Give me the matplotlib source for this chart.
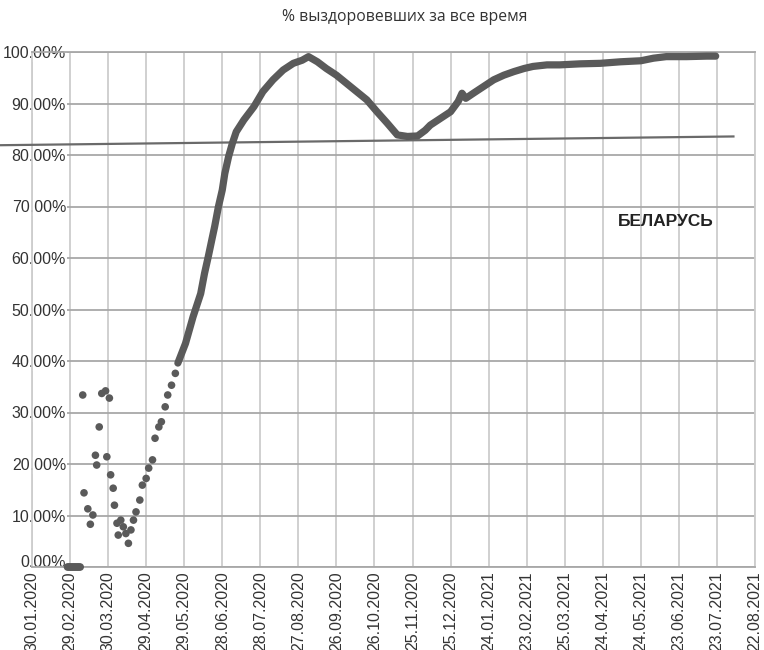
import matplotlib
matplotlib.use("Agg")
import matplotlib.pyplot as plt
import matplotlib.dates as mdates
from matplotlib.ticker import FuncFormatter
import pandas as pd

# ранний период: разрозненные точки
early_dates = ["2020-02-27", "2020-02-28", "2020-02-29", "2020-03-01", "2020-03-02",
               "2020-03-03", "2020-03-04", "2020-03-05", "2020-03-06", "2020-03-07",
               "2020-03-08",
               "2020-03-10", "2020-03-11", "2020-03-14", "2020-03-16", "2020-03-18",
               "2020-03-20", "2020-03-21", "2020-03-23", "2020-03-25", "2020-03-28",
               "2020-03-29", "2020-03-31", "2020-04-01", "2020-04-03", "2020-04-04",
               "2020-04-06", "2020-04-07", "2020-04-09", "2020-04-11", "2020-04-13",
               "2020-04-15", "2020-04-17", "2020-04-19", "2020-04-21", "2020-04-24",
               "2020-04-26", "2020-04-29", "2020-05-01", "2020-05-04", "2020-05-06",
               "2020-05-09", "2020-05-11", "2020-05-14", "2020-05-16", "2020-05-19",
               "2020-05-22"]
early_pct = [0, 0, 0, 0, 0, 0, 0, 0, 0, 0, 0,
             33.4, 14.4, 11.3, 8.3, 10.1, 21.7, 19.8, 27.2, 33.7, 34.2,
             21.4, 32.8, 17.9, 15.3, 12.0, 8.5, 6.2, 9.1, 7.8, 6.5,
             4.6, 7.2, 9.1, 10.7, 13.0, 15.9, 17.2, 19.2, 20.8, 25.0,
             27.2, 28.2, 31.1, 33.4, 35.3, 37.6]

# дальше ряд сплошной
main_dates = ["2020-05-24", "2020-05-30", "2020-06-05", "2020-06-11", "2020-06-14",
              "2020-06-17", "2020-06-20", "2020-06-22", "2020-06-25", "2020-06-28",
              "2020-06-30", "2020-07-03", "2020-07-06", "2020-07-09", "2020-07-15",
              "2020-07-23", "2020-07-30", "2020-08-07", "2020-08-15", "2020-08-23",
              "2020-08-30", "2020-09-04", "2020-09-11", "2020-09-18", "2020-09-26",
              "2020-10-04", "2020-10-12", "2020-10-20", "2020-10-28", "2020-11-05",
              "2020-11-13", "2020-11-21", "2020-11-29", "2020-12-05", "2020-12-09",
              "2020-12-17", "2020-12-25", "2020-12-31", "2021-01-03", "2021-01-06",
              "2021-01-12", "2021-01-20", "2021-01-28", "2021-02-05", "2021-02-13",
              "2021-02-21", "2021-02-28", "2021-03-11", "2021-03-21", "2021-04-06",
              "2021-04-22", "2021-05-08", "2021-05-24", "2021-06-03", "2021-06-13",
              "2021-06-29", "2021-07-15", "2021-07-22"]
main_pct = [39.6, 43.4, 48.6, 53.1, 57.0,
            60.3, 63.8, 66.1, 70.0, 73.2,
            76.4, 79.7, 82.3, 84.5, 86.8,
            89.4, 92.3, 94.6, 96.5, 97.8,
            98.4, 99.1, 98.1, 96.8, 95.5,
            93.9, 92.3, 90.7, 88.4, 86.2,
            83.9, 83.6, 83.7, 84.8, 85.8,
            87.1, 88.4, 90.4, 92.0, 91.0,
            92.0, 93.3, 94.6, 95.5, 96.2,
            96.8, 97.2, 97.5, 97.5, 97.7,
            97.8, 98.1, 98.3, 98.8, 99.1,
            99.1, 99.2, 99.2]

# линия тренда (концы)
trend_dates = ["2020-01-05", "2021-08-05"]
trend_pct = [81.9, 83.6]

title = "% выздоровевших за все время"
country = "БЕЛАРУСЬ"

x_start = "2020-01-30"
x_end = "2021-08-22"

fig = plt.figure(figsize=(7.64, 6.5), dpi=100)
ax = fig.add_axes([32 / 764, 83 / 650, 723 / 764, 515 / 650])

vcol = "#cdcdcd"
hcol = "#a8a8a8"
dcol = "#5a5a5a"

ax.plot(pd.to_datetime(trend_dates), [v / 100 for v in trend_pct],
        color="#6a6a6a", lw=1.6, clip_on=False, zorder=3)
ax.plot(pd.to_datetime(main_dates), [v / 100 for v in main_pct],
        color=dcol, lw=5.2, solid_capstyle="round", solid_joinstyle="round", zorder=4)
ax.scatter(pd.to_datetime(early_dates), [v / 100 for v in early_pct],
           s=30, color=dcol, edgecolors="none", zorder=4, clip_on=False)

ax.set_xlim(pd.Timestamp(x_start), pd.Timestamp(x_end))
ax.set_ylim(0, 1)

ticks = pd.date_range(x_start, periods=20, freq="30D")
ax.set_xticks(ticks)
ax.xaxis.set_major_formatter(mdates.DateFormatter("%d.%m.%Y"))
ax.set_yticks([i / 10 for i in range(11)])
ax.yaxis.set_major_formatter(FuncFormatter(lambda v, p: f"{v * 100:.2f}%"))

ax.grid(True, axis="x", color=vcol, lw=1.3)
ax.grid(True, axis="y", color=hcol, lw=1.3)
ax.set_axisbelow(True)
for s in ["left", "right"]:
    ax.spines[s].set_color(vcol)
    ax.spines[s].set_linewidth(1.3)
for s in ["top", "bottom"]:
    ax.spines[s].set_color(hcol)
    ax.spines[s].set_linewidth(1.3)

ax.tick_params(axis="x", length=0, pad=3, labelsize=11.5, labelcolor="#333333",
               labelrotation=90)
ax.tick_params(axis="y", length=0, pad=-24.5, labelsize=11.5, labelcolor="#333333")
for lbl in ax.get_xticklabels() + ax.get_yticklabels():
    lbl.set_fontfamily("Liberation Sans")
for lbl in ax.get_yticklabels():
    lbl.set_bbox(dict(facecolor="white", edgecolor="none", pad=0.5))
    lbl.set_zorder(5)
ax.get_yticklabels()[0].set_verticalalignment("baseline")

fig.text(0.53, 0.974, title, ha="center", va="center", fontsize=11.3,
         family="Open Sans", color="#333333")
ax.text(pd.Timestamp("2021-06-13"), 0.67, country, ha="center", va="center",
        fontsize=12.5, fontweight="bold", family="Liberation Sans", color="#222222")

fig.savefig("out.png", dpi=100)
